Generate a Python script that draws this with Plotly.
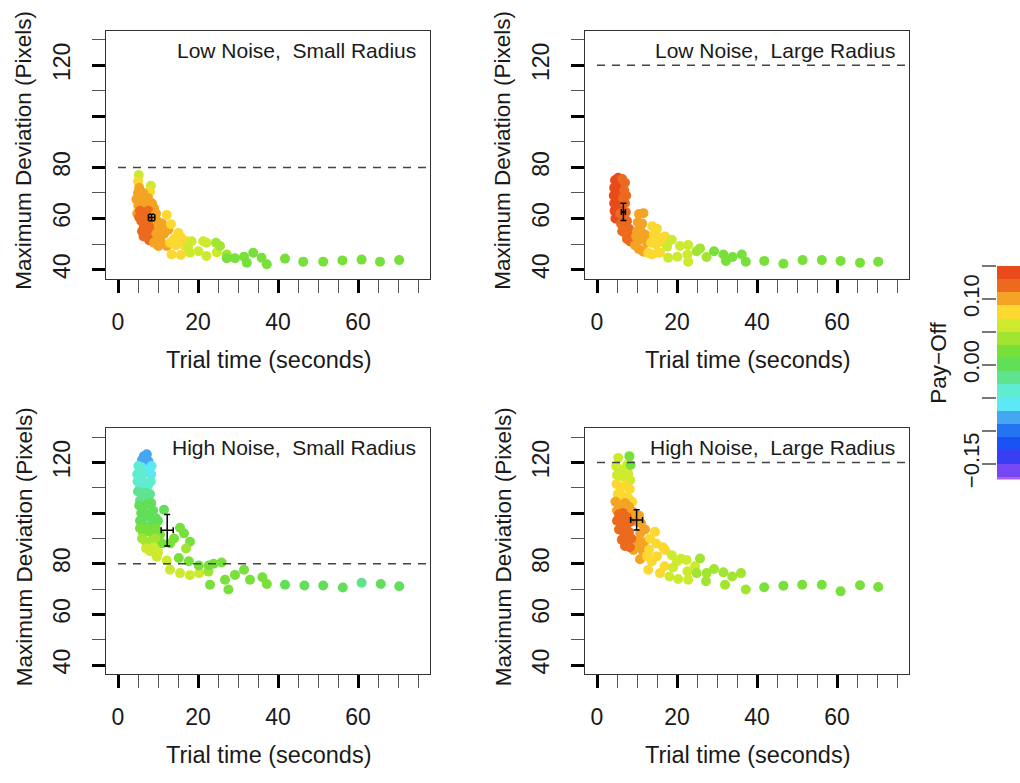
import plotly.graph_objects as go

# ---------------- data ----------------
panel_titles = ["Low Noise,  Small Radius", "Low Noise,  Large Radius",
                "High Noise,  Small Radius", "High Noise,  Large Radius"]
thresholds = [80, 120, 80, 120]

p1_t = [5.2, 5.0, 5.3, 5.0, 5.5, 8.2, 8.0, 7.5, 6.3, 6.0, 5.1, 7.0, 8.5, 9.0, 4.6, 4.8,
        5.5, 6.2, 5.8, 6.8, 7.2, 6.5, 7.5, 8.0, 6.0, 7.0, 8.2, 7.8, 8.6, 5.3, 7.6, 8.8, 6.4, 7.3,
        9.5, 9.8, 10.2, 9.6, 10.5, 10.1, 9.0, 11.5, 12.2, 12.6, 11.0, 10.8,
        12.2, 13.25, 15.1, 13.4, 15.7, 17.2, 16.7, 14.0, 14.5, 15.8, 13.0,
        18.4, 18.0, 20.1, 21.3, 22.1, 22.1, 24.7, 17.5,
        24.5, 25.5, 27.2, 27.2, 29.25, 31.5, 32.2, 33.8, 35.9, 37.2, 41.75, 46.3, 51.3, 56.1, 60.9, 65.5, 70.3]
p1_dev = [77.0, 74.5, 72.0, 70.0, 68.0, 72.8, 70.5, 68.0, 70.0, 66.0, 65.0, 65.5, 66.0, 64.0, 67.5, 62.0,
          63.0, 61.0, 59.0, 62.0, 59.5, 57.0, 56.0, 58.0, 55.0, 54.0, 53.0, 51.5, 55.0, 60.5, 63.0, 61.0, 53.0, 60.5,
          62.0, 59.0, 56.5, 54.0, 52.5, 49.2, 50.5, 54.0, 49.2, 55.6, 58.0, 50.5,
          61.4, 57.8, 54.3, 45.9, 45.7, 51.1, 49.2, 52.0, 49.5, 52.5, 50.5,
          51.1, 46.6, 47.2, 51.1, 50.5, 45.3, 46.8, 48.5,
          50.5, 49.2, 45.9, 44.4, 44.4, 45.0, 42.7, 46.6, 44.6, 42.1, 44.3, 43.1, 43.1, 43.6, 43.9, 43.1, 43.7]
p1_pay = [0.06, 0.08, 0.10, 0.10, 0.10, 0.06, 0.08, 0.10, 0.10, 0.10, 0.10, 0.10, 0.10, 0.10, 0.10, 0.10,
          0.12, 0.12, 0.12, 0.12, 0.12, 0.12, 0.12, 0.12, 0.12, 0.12, 0.12, 0.12, 0.12, 0.12, 0.12, 0.12, 0.12, 0.12,
          0.10, 0.10, 0.10, 0.10, 0.10, 0.10, 0.10, 0.10, 0.10, 0.10, 0.10, 0.10,
          0.08, 0.08, 0.08, 0.08, 0.08, 0.08, 0.08, 0.08, 0.08, 0.08, 0.08,
          0.06, 0.06, 0.06, 0.06, 0.06, 0.06, 0.06, 0.06,
          0.04, 0.04, 0.04, 0.02, 0.02, 0.02, 0.02, 0.02, 0.02, 0.02, 0.02, 0.02, 0.02, 0.02, 0.02, 0.02, 0.02]

p2_t = [4.5, 5.3, 4.3, 5.0, 4.2, 5.2, 4.3, 5.0, 4.4, 5.3, 4.6, 5.5,
        6.3, 7.0, 6.8, 7.3, 6.5, 7.0, 7.2, 6.0, 6.8, 7.5, 6.3, 7.2, 8.0, 7.5, 8.3, 5.8, 8.6,
        10.5, 11.6, 10.2, 11.3, 10.0, 11.2, 10.4, 9.5, 10.5, 12.5, 11.6, 9.8, 12.2,
        13.8, 15.0, 14.2, 15.8, 13.5, 14.8, 16.5, 12.8, 15.3, 17.0, 13.7, 15.75,
        18.7, 20.75, 22.8, 17.8, 20.1, 22.6, 22.8, 17.5,
        24.9, 25.75, 27.4, 29.25, 31.6, 32.25, 33.9, 36.2, 37.2, 41.8, 46.6, 51.4, 56.2, 60.9, 65.75, 70.3]
p2_dev = [75.0, 76.0, 72.0, 73.0, 69.0, 70.0, 66.0, 67.0, 63.0, 64.0, 60.0, 61.0,
          75.5, 74.0, 71.0, 69.0, 68.0, 66.0, 62.5, 58.0, 57.0, 59.0, 55.0, 54.0, 56.0, 52.0, 51.0, 62.0, 53.5,
          61.8, 62.1, 58.5, 58.0, 55.0, 54.5, 51.5, 49.5, 48.0, 50.5, 47.0, 53.0, 53.5,
          57.0, 56.0, 53.5, 52.5, 50.5, 49.8, 50.8, 46.5, 46.6, 53.0, 45.9, 46.6,
          51.7, 49.2, 49.6, 44.6, 45.0, 45.9, 43.1, 49.0,
          47.2, 48.3, 44.9, 47.2, 45.9, 43.4, 44.9, 45.9, 43.1, 43.4, 42.3, 43.7, 43.7, 43.4, 42.7, 43.1]
p2_pay = [0.14] * 12 + [0.12] * 17 + [0.10] * 13 + [0.08] * 12 + [0.06] * 8 + \
         [0.04, 0.04, 0.04, 0.02, 0.02, 0.02, 0.02, 0.02, 0.02, 0.02, 0.02, 0.02, 0.02, 0.02, 0.02, 0.02]

p3_t = [6.5, 7.2, 6.0, 7.6, 6.9,
        8.4, 8.3, 6.8, 7.8, 6.0,
        5.1, 4.8, 4.9, 5.8, 6.5, 7.5, 8.2, 5.5, 6.2,
        5.0, 6.0, 7.0, 8.0, 5.5, 6.8,
        5.3, 6.2, 7.2, 8.3, 8.8, 5.8, 6.8, 7.8, 9.5, 11.5, 5.5, 6.5, 10.0, 8.6,
        5.5, 6.3, 7.3, 8.5, 9.5, 10.5, 15.5, 14.0, 16.5, 18.0, 13.0, 11.0,
        6.0, 7.0, 8.2, 9.3, 17.0,
        7.0, 8.0, 9.0, 10.0, 9.7, 12.2, 13.0, 15.5, 18.0, 20.3, 22.6,
        15.2, 17.7, 20.2, 22.7, 23.9, 25.9,
        23.0, 26.75, 27.6, 29.25, 31.5, 33.0, 36.1, 37.2,
        41.75, 46.6, 51.3, 56.2, 60.9, 65.7, 70.3]
p3_dev = [122.5, 123.2, 121.0, 120.5, 121.5,
          118.6, 115.3, 117.0, 116.5, 118.0,
          118.6, 115.3, 112.5, 113.5, 112.0, 111.0, 112.5, 110.0, 115.5,
          108.5, 107.0, 108.0, 107.5, 105.0, 105.0,
          103.0, 102.0, 103.5, 104.0, 101.0, 100.0, 98.5, 99.5, 98.0, 101.3, 97.0, 95.0, 97.0, 96.0,
          94.0, 92.0, 93.5, 92.0, 94.0, 91.5, 94.2, 90.0, 92.0, 88.7, 88.0, 88.0,
          90.0, 88.5, 89.0, 90.0, 86.0,
          86.0, 85.0, 86.5, 84.5, 82.8, 81.3, 77.6, 76.3, 75.5, 76.3, 76.9,
          82.3, 81.0, 79.3, 79.3, 80.0, 80.5,
          71.7, 73.7, 69.8, 75.6, 77.6, 73.7, 74.7, 72.0,
          71.7, 71.4, 71.4, 70.6, 72.5, 72.0, 71.1]
p3_pay = [-0.08] * 5 + [-0.06] * 5 + [-0.04] * 9 + [-0.02] * 6 + [0.00] * 14 + [0.02] * 12 + \
         [0.04] * 5 + [0.06] * 10 + [0.04] + [0.02] * 6 + [0.02] * 8 + \
         [0.00, 0.00, 0.00, 0.00, -0.02, 0.00, 0.00]

p4_t = [5.3, 4.8, 5.8, 7.5, 5.0, 6.5, 7.8, 8.3,
        8.1, 8.4,
        4.9, 6.0, 7.2, 8.2, 5.2, 6.5, 7.8, 8.8,
        4.6, 5.8, 7.0, 8.0, 5.0, 9.0, 9.5, 10.5, 11.0, 12.0, 10.8, 9.1, 10.75, 11.5, 9.8, 11.8, 10.3,
        5.5, 6.5, 7.5, 5.0, 6.2, 7.2, 8.3, 5.5, 6.8, 8.0, 6.2, 7.5, 8.6, 7.0, 8.2,
        14.5, 13.2, 14.8, 13.0, 16.5, 13.7, 12.8, 15.75, 16.9, 12.5, 15.0, 17.0,
        18.7, 20.0, 21.0, 22.4, 24.5, 18.1, 20.3, 22.8, 22.6, 19.0,
        25.75, 24.9, 27.4, 27.25, 29.25, 31.6, 33.8, 36.0, 32.0, 37.2,
        41.8, 46.6, 51.3, 56.2, 60.9, 65.75, 70.3]
p4_dev = [121.8, 118.5, 117.0, 119.0, 115.0, 114.5, 115.5, 113.0,
          122.5, 119.0,
          111.5, 110.0, 111.0, 109.5, 107.5, 106.5, 106.0, 104.5,
          104.5, 103.0, 104.0, 102.5, 101.0, 100.5, 97.0, 99.0, 96.0, 93.5, 92.0, 85.4, 81.8, 85.0, 86.5, 88.5, 89.0,
          99.5, 100.0, 98.5, 97.0, 96.0, 95.0, 96.5, 93.5, 92.0, 92.5, 89.5, 89.0, 90.0, 87.0, 86.5,
          92.6, 90.0, 88.0, 85.5, 86.5, 80.9, 77.6, 76.3, 79.0, 83.0, 83.0, 85.4,
          83.4, 80.9, 82.0, 81.5, 79.0, 75.0, 74.0, 73.7, 77.0, 78.5,
          82.1, 76.3, 76.3, 73.1, 77.9, 76.6, 75.0, 76.3, 71.7, 69.8,
          70.7, 71.3, 71.7, 71.7, 69.1, 71.5, 70.8]
p4_pay = [0.06] * 8 + [0.02] * 2 + [0.08] * 8 + [0.10] * 17 + [0.12] * 15 + [0.08] * 12 + \
         [0.06] * 10 + [0.04] * 10 + [0.02] * 7

# error bars: centre (time, deviation) with half-widths
err_t = [8.4, 6.6, 12.3, 9.9]
err_dev = [60.4, 62.6, 93.2, 97.3]
err_t_half = [0.8, 0.5, 1.5, 1.5]
err_dev_half = [1.3, 3.4, 6.2, 4.0]

# colour key (Pay-Off)
pay_breaks = [-0.19, -0.17, -0.15, -0.13, -0.11, -0.09, -0.07, -0.05, -0.03, -0.01,
              0.01, 0.03, 0.05, 0.07, 0.09, 0.11, 0.13, 0.15]
pay_centres = [-0.18, -0.16, -0.14, -0.12, -0.10, -0.08, -0.06, -0.04, -0.02, 0.00,
               0.02, 0.04, 0.06, 0.08, 0.10, 0.12, 0.14]
pay_colors = ["#B45CF2", "#7448F2", "#3A3EF2", "#1B52F5", "#2474F2", "#45A6F2", "#5CE8F5",
              "#5FECD0", "#60E390", "#62DF58", "#78E03A", "#A2E432", "#CDEA2F", "#FBD930",
              "#F4A324", "#EC6A1E", "#E84A1C"]
pay_tickvals = [-0.15, -0.10, -0.05, 0.00, 0.05, 0.10, 0.15]
pay_ticktext = ["\u22120.15", "", "", "0.00", "", "0.10", ""]

x_major = [0, 20, 40, 60]
x_minor = [5, 10, 15, 25, 30, 35, 45, 50, 55, 65, 70, 75]
y_major = [40, 60, 80, 100, 120]
y_major_text = ["40", "60", "80", "", "120"]
y_minor = [50, 70, 90, 110, 130]

# ---------------- layout helpers ----------------
W, H = 1020, 783
FONT = "Liberation Sans, Arial, Helvetica, sans-serif"
TXT = "#1a1a1a"


def fx(px):
    return px / W


def fy(py):
    return 1 - py / H


boxes = [(106, 430, 31, 282), (585, 909, 31, 282), (106, 430, 433, 682), (585, 909, 433, 682)]

n = len(pay_colors)
cscale = []
for i, c in enumerate(pay_colors):
    cscale.append([i / n, c])
    cscale.append([(i + 1) / n, c])
cmin, cmax = pay_breaks[0], pay_breaks[-1]

fig = go.Figure()
data = [(p1_t, p1_dev, p1_pay), (p2_t, p2_dev, p2_pay), (p3_t, p3_dev, p3_pay), (p4_t, p4_dev, p4_pay)]

annotations = []
for k in range(4):
    xa = "x" if k == 0 else f"x{k+1}"
    ya = "y" if k == 0 else f"y{k+1}"
    t, d, p = data[k]
    fig.add_trace(go.Scatter(
        x=t, y=d, mode="markers", xaxis=xa, yaxis=ya, showlegend=False, hoverinfo="skip",
        marker=dict(size=10, color=p, colorscale=cscale, cmin=cmin, cmax=cmax, line=dict(width=0))))
    fig.add_trace(go.Scatter(
        x=[0, 78], y=[thresholds[k], thresholds[k]], mode="lines", xaxis=xa, yaxis=ya,
        showlegend=False, hoverinfo="skip",
        line=dict(color="#444444", width=1.5, dash="8px,7px")))
    fig.add_trace(go.Scatter(
        x=[err_t[k]], y=[err_dev[k]], mode="markers", xaxis=xa, yaxis=ya, showlegend=False,
        hoverinfo="skip", marker=dict(size=1, color="black"),
        error_x=dict(type="data", array=[err_t_half[k]], color="black", thickness=1.5, width=3),
        error_y=dict(type="data", array=[err_dev_half[k]], color="black", thickness=1.5, width=3)))

    x0, x1, y0, y1 = boxes[k]
    axis_common = dict(showgrid=False, zeroline=False, showline=True, linecolor="#333333",
                       linewidth=1.3, mirror=True, ticks="outside", ticklen=13, tickwidth=2.8,
                       tickcolor="black", tickfont=dict(family=FONT, size=23, color=TXT))
    fig.layout[f"xaxis{'' if k == 0 else k+1}"] = dict(
        domain=[fx(x0), fx(x1)], anchor=ya, range=[-3, 78], ticklabelstandoff=9,
        tickmode="array", tickvals=x_major, ticktext=[str(v) for v in x_major],
        minor=dict(tickvals=x_minor, ticks="outside", ticklen=13, tickwidth=1.3, tickcolor="#555555"),
        **axis_common)
    fig.layout[f"yaxis{'' if k == 0 else k+1}"] = dict(
        domain=[fy(y1), fy(y0)], anchor=xa, range=[36.4, 133.6], ticklabelstandoff=13,
        tickmode="array", tickvals=y_major, ticktext=y_major_text, tickangle=-90,
        minor=dict(tickvals=y_minor, ticks="outside", ticklen=13, tickwidth=1.3, tickcolor="#555555"),
        **axis_common)

    annotations.append(dict(text=panel_titles[k], x=fx(x1 - 12), y=fy(y0 + 20), xref="paper", yref="paper",
                            xanchor="right", yanchor="middle", showarrow=False,
                            font=dict(family=FONT, size=21, color=TXT)))
    annotations.append(dict(text="Trial time (seconds)", x=fx((x0 + x1) / 2), y=fy(y1 + 82),
                            xref="paper", yref="paper", xanchor="center", yanchor="middle",
                            showarrow=False, font=dict(family=FONT, size=23.5, color=TXT)))
    annotations.append(dict(text="Maximum Deviation (Pixels)", x=fx(x0 - 82), y=fy((y0 + y1) / 2 - 4),
                            xref="paper", yref="paper", xanchor="center", yanchor="middle",
                            textangle=-90, showarrow=False, font=dict(family=FONT, size=22.5, color=TXT)))

# colour key
fig.add_trace(go.Heatmap(
    z=[[v] for v in pay_centres], x=[0, 1], y=pay_breaks, xaxis="x5", yaxis="y5",
    colorscale=cscale, zmin=cmin, zmax=cmax, showscale=False, hoverinfo="skip"))
fig.layout["xaxis5"] = dict(domain=[fx(997), 1.0], anchor="y5", range=[0, 1], visible=False)
fig.layout["yaxis5"] = dict(domain=[fy(485), fy(269)], anchor="x5", range=[-0.174, 0.15],
                            side="left", showgrid=False, zeroline=False, showline=False,
                            tickmode="array", tickvals=pay_tickvals, ticktext=pay_ticktext,
                            tickangle=-90, ticks="outside", ticklen=14, tickwidth=1.5,
                            tickcolor="#777777", ticklabelstandoff=-6,
                            tickfont=dict(family=FONT, size=22, color=TXT))
annotations.append(dict(text="Pay\u2212Off", x=fx(939), y=fy(367), xref="paper", yref="paper",
                        xanchor="center", yanchor="middle", textangle=-90, showarrow=False,
                        font=dict(family=FONT, size=22.5, color=TXT)))

fig.update_layout(width=W, height=H, margin=dict(l=0, r=0, t=0, b=0),
                  paper_bgcolor="white", plot_bgcolor="white", annotations=annotations)

fig.write_html("out.html")
